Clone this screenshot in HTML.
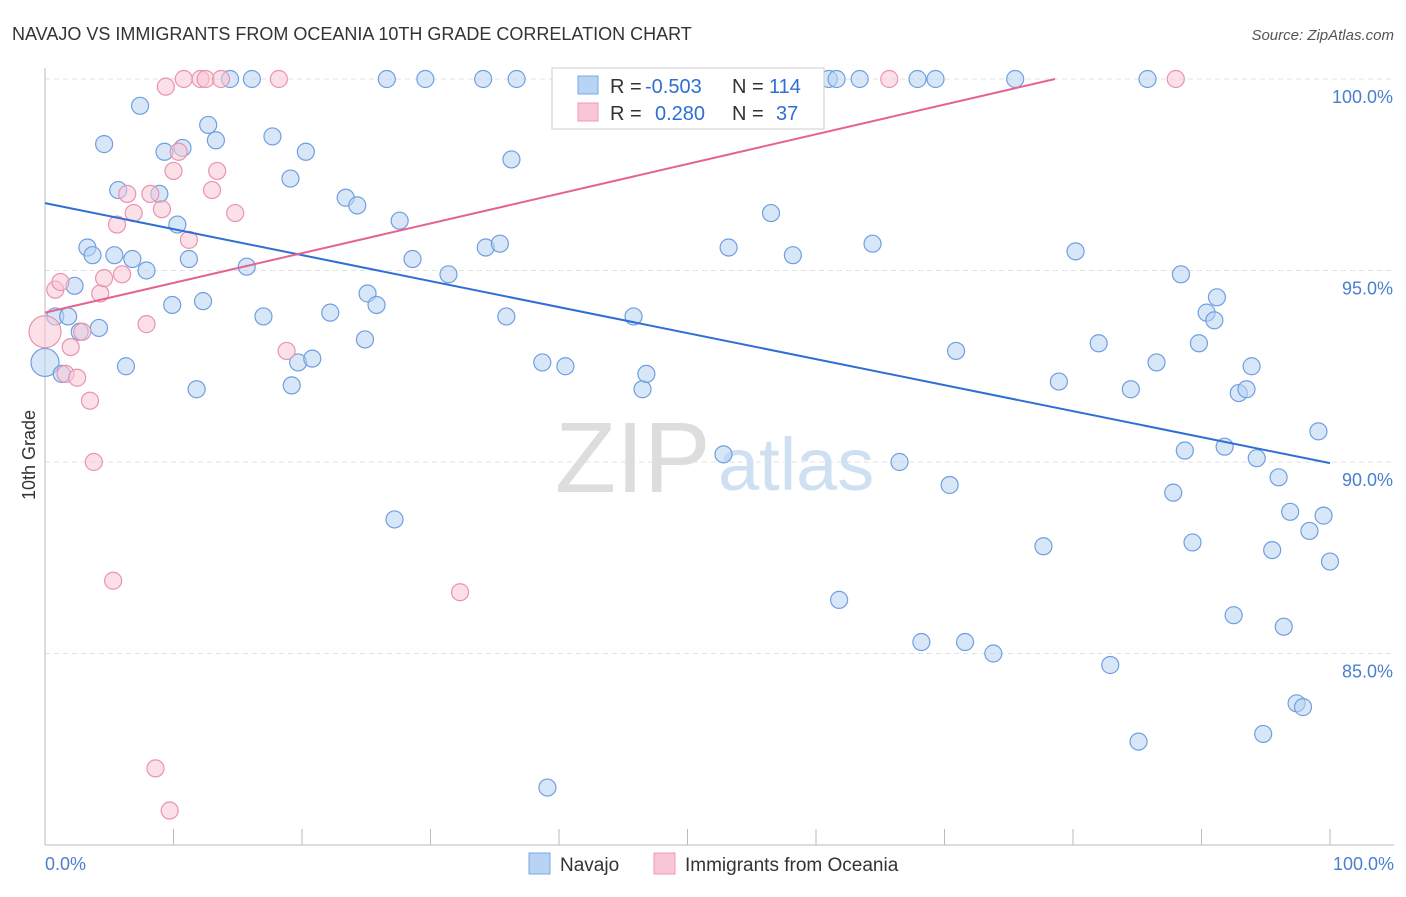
<!DOCTYPE html>
<html><head><meta charset="utf-8"><style>
body{margin:0;background:#fff;font-family:"Liberation Sans",sans-serif;}
svg text{font-family:"Liberation Sans",sans-serif;}
</style></head><body>
<svg id="chart" width="1406" height="892" xmlns="http://www.w3.org/2000/svg">
<text x="12" y="40" font-size="18" fill="#333">NAVAJO VS IMMIGRANTS FROM OCEANIA 10TH GRADE CORRELATION CHART</text>
<text x="1394" y="40" font-size="15" fill="#555" text-anchor="end" font-style="italic">Source: ZipAtlas.com</text>
<text x="35" y="455" font-size="18" fill="#333" transform="rotate(-90 35 455)" text-anchor="middle">10th Grade</text>
<g id="grid"></g>
<text x="555" y="492" font-size="100" fill="#ddd" font-family="Liberation Serif">ZIP</text>
<text x="718" y="490" font-size="74" fill="#cfe0f3">atlas</text>
<g id="pts"></g>
<g id="lines"></g>
<g>
<rect x="552" y="68" width="272" height="61" fill="#fff" stroke="#ccc"/>
<rect x="578" y="76" width="20" height="18" fill="#b8d3f3" stroke="#7aaae6"/>
<text x="610" y="93" font-size="20" fill="#333">R =</text><text x="645" y="93" font-size="20" fill="#2e6fd4">-0.503</text>
<text x="732" y="93" font-size="20" fill="#333">N =</text><text x="769" y="93" font-size="20" fill="#2e6fd4">114</text>
<rect x="578" y="103" width="20" height="18" fill="#f8c6d6" stroke="#ee9ab5"/>
<text x="610" y="120" font-size="20" fill="#333">R =</text><text x="655" y="120" font-size="20" fill="#2e6fd4">0.280</text>
<text x="732" y="120" font-size="20" fill="#333">N =</text><text x="776" y="120" font-size="20" fill="#2e6fd4">37</text>
</g>
<g>
<rect x="529" y="853" width="21" height="21" fill="#b8d3f3" stroke="#7aaae6"/>
<text x="560" y="871" font-size="19" fill="#333">Navajo</text>
<rect x="654" y="853" width="21" height="21" fill="#f8c6d6" stroke="#ee9ab5"/>
<text x="685" y="871" font-size="19" fill="#333">Immigrants from Oceania</text>
</g>
<text x="45" y="870" font-size="18" fill="#4a7fd0">0.0%</text>
<text x="1394" y="870" font-size="18" fill="#4a7fd0" text-anchor="end">100.0%</text>
</svg>
<script>
const yTicks=[100,95,90,85];
const xTicks=[0,10,20,30,40,50,60,70,80,90,100];
const blueX=[0,0.8,1.3,1.8,2.3,2.7,3.3,3.7,4.2,4.6,
5.4,5.7,6.3,6.8,7.4,7.9,8.9,9.3,9.9,10.3,
10.7,11.2,11.8,12.3,12.7,13.3,14.4,15.7,16.1,17.0,
17.7,19.1,19.2,19.7,20.3,20.8,22.2,23.4,24.3,24.9,
25.1,25.8,26.6,27.2,27.6,28.6,29.6,31.4,34.1,34.3,
35.4,35.9,36.3,36.7,38.7,39.1,40.5,45.8,46.5,46.8,
52.4,52.8,53.2,56.5,58.2,61.0,61.6,61.8,63.4,64.4,
66.5,67.9,68.2,69.3,70.4,70.9,71.6,73.8,75.5,77.7,
78.9,80.2,82.0,82.9,84.5,85.1,85.8,86.5,87.8,88.4,
88.7,89.3,89.8,90.4,91.0,91.2,91.8,92.5,92.9,93.5,
93.9,94.3,94.8,95.5,96.0,96.4,96.9,97.4,97.9,98.4,
99.1,99.5,100.0];
const blueY=[92.6,93.8,92.3,93.8,94.6,93.4,95.6,95.4,93.5,98.3,
95.4,97.1,92.5,95.3,99.3,95.0,97.0,98.1,94.1,96.2,
98.2,95.3,91.9,94.2,98.8,98.4,100,95.1,100,93.8,
98.5,97.4,92.0,92.6,98.1,92.7,93.9,96.9,96.7,93.2,
94.4,94.1,100,88.5,96.3,95.3,100,94.9,100,95.6,
95.7,93.8,97.9,100,92.6,81.5,92.5,93.8,91.9,92.3,
100,90.2,95.6,96.5,95.4,100,100,86.4,100,95.7,
90.0,100,85.3,100,89.4,92.9,85.3,85.0,100,87.8,
92.1,95.5,93.1,84.7,91.9,82.7,100,92.6,89.2,94.9,
90.3,87.9,93.1,93.9,93.7,94.3,90.4,86.0,91.8,91.9,
92.5,90.1,82.9,87.7,89.6,85.7,88.7,83.7,83.6,88.2,
90.8,88.6,87.4];
const pinkX=[0,0.8,1.2,1.6,2.0,2.5,2.9,3.5,3.8,4.3,4.6,5.3,5.6,6.0,6.4,6.9,7.9,8.2,8.6,9.1,9.4,9.7,10.0,10.4,10.8,11.2,12.1,12.5,13.0,13.4,13.7,14.8,18.2,18.8,32.3,65.7,88.0];
const pinkY=[93.4,94.5,94.7,92.3,93.0,92.2,93.4,91.6,90.0,94.4,94.8,86.9,96.2,94.9,97.0,96.5,93.6,97.0,82.0,96.6,99.8,80.9,97.6,98.1,100,95.8,100,100,97.1,97.6,100,96.5,100,92.9,86.6,100,100];
const blueLine=[96.76,89.97];const pinkLine=[93.9,100,78.6];
const X=v=>45+v*12.85, Y=v=>79+(100-v)*38.3;
const NS='http://www.w3.org/2000/svg';
const g=document.getElementById('grid');
function mk(t,a,p){const e=document.createElementNS(NS,t);for(const k in a)e.setAttribute(k,a[k]);p.appendChild(e);return e;}
yTicks.forEach(v=>{
 const l=mk('line',{x1:45,x2:1394,y1:Y(v),y2:Y(v),stroke:'#e2e2e2','stroke-dasharray':'5,4'},g);
 
 
 const t=mk('text',{x:1393,y:Y(v)+24,'font-size':18,fill:'#4a7fd0','text-anchor':'end'},g);t.textContent=v.toFixed(1)+'%';
 
 
});
const ax=mk('line',{x1:45,x2:1394,y1:845,y2:845,stroke:'#bbb'},g);


const ay=mk('line',{x1:45,x2:45,y1:68,y2:845,stroke:'#bbb'},g);


xTicks.forEach(v=>{const l=mk('line',{x1:X(v),x2:X(v),y1:829,y2:845,stroke:'#bbb'},g);
 
 });
const p=document.getElementById('pts');
function dots(xs,ys,fill,stroke,name){xs.forEach((x,i)=>{const r=i===0?(name==='navajo-point'?14:16):8.5;
 const c=mk('circle',{cx:X(x),cy:Y(ys[i]),r:r,fill:fill,'fill-opacity':0.55,stroke:stroke,'stroke-width':1.2},p);
 
 });}
dots(blueX,blueY,'#b8d3f3','#6f9fe0','navajo-point');
dots(pinkX,pinkY,'#f8c6d6','#ea93b0','oceania-point');
const L=document.getElementById('lines');
const bl=mk('line',{x1:X(0),y1:Y(blueLine[0]),x2:X(100),y2:Y(blueLine[1]),stroke:'#2e6fd4','stroke-width':2},L);


const pl=mk('line',{x1:X(0),y1:Y(pinkLine[0]),x2:X(pinkLine[2]),y2:Y(pinkLine[1]),stroke:'#e4648f','stroke-width':2},L);


</script>
</body></html>
